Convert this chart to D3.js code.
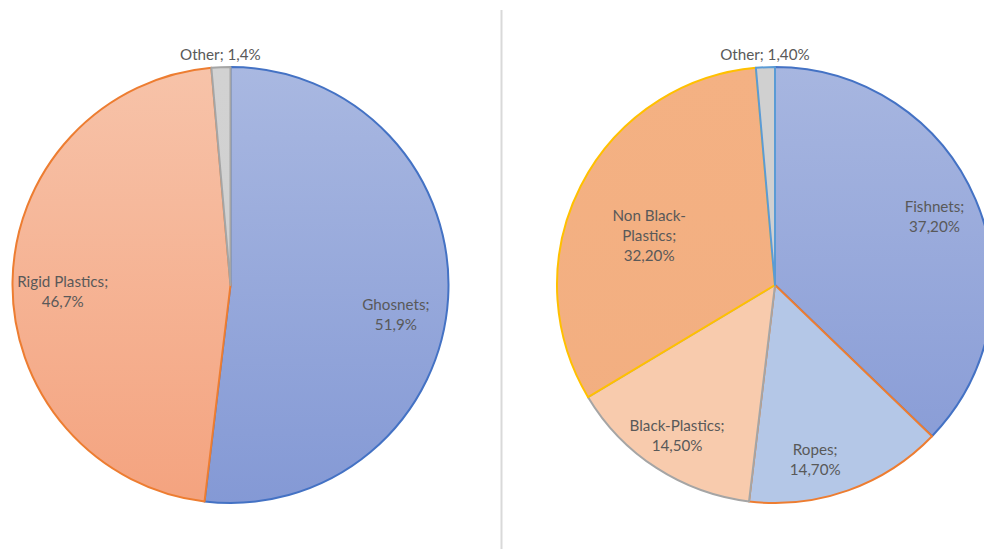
<!DOCTYPE html>
<html><head><meta charset="utf-8">
<script src="https://cdn.jsdelivr.net/npm/d3@7"></script>
<style>body{margin:0;background:#fff}svg{display:block}</style>
</head><body><svg id="c" width="984" height="549"></svg>
<script>
// Left pie
const leftCategories = ["Ghosnets", "Rigid Plastics", "Other"];
const leftValues = [51.9, 46.7, 1.4];
const leftLabels = ["51,9%", "46,7%", "1,4%"];
// Right pie
const rightCategories = ["Fishnets", "Ropes", "Black-Plastics", "Non Black-Plastics", "Other"];
const rightValues = [37.2, 14.7, 14.5, 32.2, 1.4];
const rightLabels = ["37,20%", "14,70%", "14,50%", "32,20%", "1,40%"];

// styles
const leftStyle = [
  {fill: ["#A9B8E1", "#8499D5"], stroke: "#4472C4"},
  {fill: ["#F7C3A9", "#F4A37F"], stroke: "#ED7D31"},
  {fill: ["#D2D2D2", "#CFCFCF"], stroke: "#A5A5A5"}
];
const rightStyle = [
  {fill: ["#A7B6E0", "#8599D5"], stroke: "#4472C4"},
  {fill: ["#B4C7E7", "#B4C7E7"], stroke: "#ED7D31"},
  {fill: ["#F8CBAD", "#F8CBAD"], stroke: "#A5A5A5"},
  {fill: ["#F4B183", "#F2AE80"], stroke: "#FFC000"},
  {fill: ["#D0D0D0", "#D0D0D0"], stroke: "#5B9BD5"}
];
// label layout: radius factor, extra offsets, lines
const leftLayout = [
  {r: 0.76, dx: 0, dy: 20, lines: ["Ghosnets;"]},
  {r: 0.77, dx: 0, dy: 10, lines: ["Rigid Plastics;"]},
  {r: 1.055, dx: 0, dy: 0, lines: ["Other; "], inline: true}
];
const rightLayout = [
  {r: 0.795, dx: 0, dy: 0, lines: ["Fishnets;"]},
  {r: 0.82, dx: 0, dy: 1, lines: ["Ropes;"], ang: 167},
  {r: 0.826, dx: 0, dy: 0, lines: ["Black-Plastics;"]},
  {r: 0.62, dx: 0, dy: 0, lines: ["Non Black-", "Plastics;"], ang: 291.4},
  {r: 1.055, dx: 0, dy: 0, lines: ["Other; "], inline: true}
];

const svg = d3.select("#c");
const defs = svg.append("defs");

// separator line
svg.append("line").attr("x1", 501.5).attr("x2", 501.5).attr("y1", 10).attr("y2", 549)
  .attr("stroke", "#D9D9D9").attr("stroke-width", 2);

function drawPie(id, cx, cy, R, values, labels, styles, layout) {
  const pie = d3.pie().sort(null).value(d => d)(values);
  const arc = d3.arc().innerRadius(0).outerRadius(R);
  const g = svg.append("g").attr("transform", `translate(${cx},${cy})`);
  pie.forEach((p, i) => {
    const gid = `${id}g${i}`;
    const lg = defs.append("linearGradient").attr("id", gid)
      .attr("gradientUnits", "userSpaceOnUse")
      .attr("x1", 0).attr("y1", -R).attr("x2", 0).attr("y2", R);
    lg.append("stop").attr("offset", "0%").attr("stop-color", styles[i].fill[0]);
    lg.append("stop").attr("offset", "100%").attr("stop-color", styles[i].fill[1]);
    g.append("path").attr("d", arc(p)).attr("fill", `url(#${gid})`)
      .attr("stroke", styles[i].stroke).attr("stroke-width", 2).attr("stroke-linejoin", "round");
  });
  pie.forEach((p, i) => {
    const L = layout[i];
    const a = L.ang !== undefined ? L.ang * Math.PI / 180 : (p.startAngle + p.endAngle) / 2;
    const rr = R * L.r;
    const x = rr * Math.sin(a) + L.dx, y = -rr * Math.cos(a) + L.dy;
    const lines = L.inline ? [L.lines[0] + labels[i]] : L.lines.concat([labels[i]]);
    const lh = 20;
    const t = g.append("text").attr("text-anchor", "middle")
      .attr("font-family", "Lato, 'Open Sans', sans-serif").attr("font-size", 15.2)
      .attr("fill", "#595959");
    lines.forEach((s, k) => {
      t.append("tspan").attr("x", x)
        .attr("y", y + (k - (lines.length - 1) / 2) * lh + 5)
        .text(s);
    });
  });
}

drawPie("L", 230.5, 285, 218, leftValues, leftLabels, leftStyle, leftLayout);
drawPie("R", 775, 285, 218, rightValues, rightLabels, rightStyle, rightLayout);
</script></body></html>
